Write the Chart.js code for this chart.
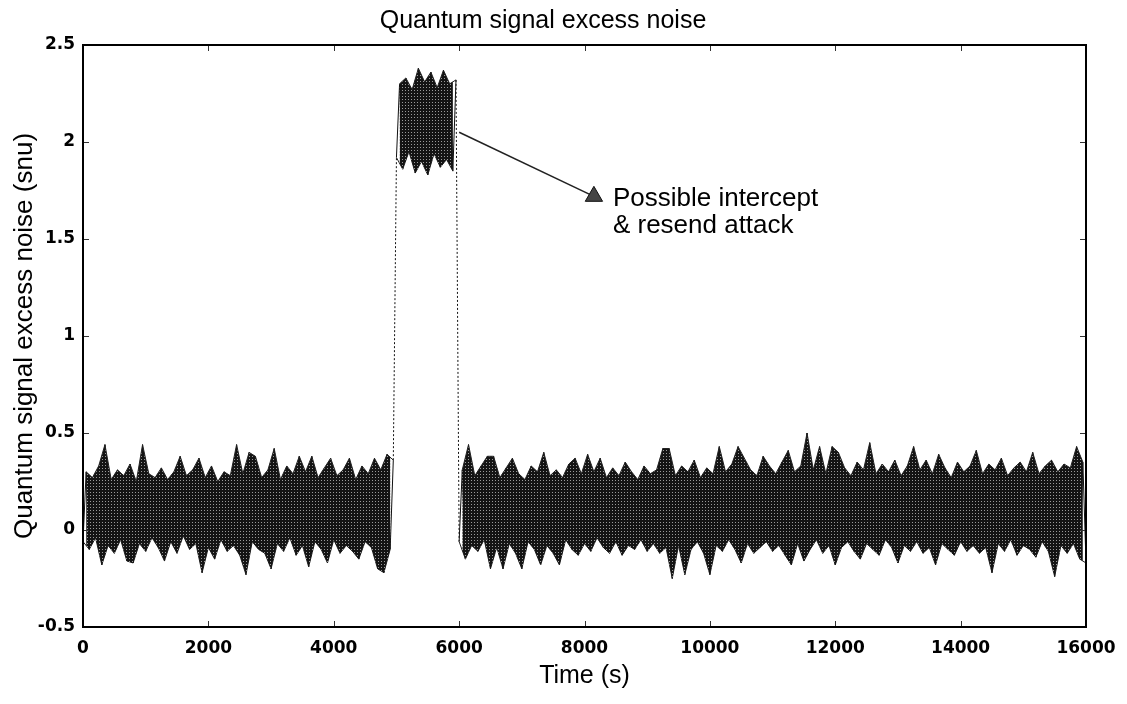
<!DOCTYPE html>
<html>
<head>
<meta charset="utf-8">
<title>Quantum signal excess noise</title>
<script src="https://cdn.jsdelivr.net/npm/chart.js@4.4.1/dist/chart.umd.min.js"></script>
<style>
  html, body { margin: 0; padding: 0; background: #fff; }
  #wrap { width: 1127px; height: 704px; }
</style>
</head>
<body>
<div id="wrap"><canvas id="noiseChart" width="1127" height="704"></canvas></div>
<script>
// sample spacing of the trace (s); troughs and peaks alternate
const stepSeconds = 50;

// 0 - 5000 s : normal link
const beforeStart = 0;
const beforeLow = [
  -0.06, -0.10, -0.04, -0.18, -0.08, -0.12, -0.05, -0.16, -0.17, -0.07,
  -0.11, -0.04, -0.09, -0.16, -0.06, -0.12, -0.03, -0.10, -0.07, -0.22,
  -0.09, -0.15, -0.05, -0.11, -0.08, -0.13, -0.23, -0.06, -0.10, -0.12,
  -0.20, -0.07, -0.11, -0.04, -0.13, -0.08, -0.19, -0.06, -0.10, -0.17,
  -0.05, -0.12, -0.08, -0.11, -0.15, -0.06, -0.09, -0.20, -0.22, -0.10
];
const beforeHigh = [
  0.30, 0.27, 0.33, 0.44, 0.26, 0.31, 0.28, 0.34, 0.25, 0.44,
  0.29, 0.27, 0.32, 0.26, 0.30, 0.38, 0.28, 0.31, 0.37, 0.27,
  0.33, 0.25, 0.30, 0.28, 0.44, 0.29, 0.40, 0.38, 0.27, 0.31,
  0.42, 0.26, 0.33, 0.29, 0.38, 0.30, 0.38, 0.27, 0.32, 0.37,
  0.28, 0.31, 0.37, 0.26, 0.33, 0.29, 0.37, 0.31, 0.39, 0.36
];

// 5000 - 6000 s : intercept & resend
const attackStart = 5000;
const attackLow = [1.92, 1.86, 1.95, 1.84, 1.90, 1.83, 1.94, 1.87, 1.91, 1.85];
const attackHigh = [2.30, 2.33, 2.27, 2.38, 2.31, 2.36, 2.28, 2.37, 2.30, 2.32];

// 6000 - 16000 s : normal link again
const afterStart = 6000;
const afterLow = [
  -0.06, -0.15, -0.08, -0.11, -0.05, -0.20, -0.09, -0.20, -0.07, -0.12,
  -0.20, -0.06, -0.10, -0.18, -0.08, -0.12, -0.18, -0.05, -0.10, -0.13,
  -0.07, -0.11, -0.04, -0.09, -0.12, -0.06, -0.13, -0.08, -0.10, -0.05,
  -0.11, -0.07, -0.12, -0.09, -0.25, -0.08, -0.23, -0.10, -0.06, -0.12,
  -0.23, -0.08, -0.11, -0.05, -0.10, -0.17, -0.07, -0.12, -0.09, -0.06,
  -0.11, -0.08, -0.13, -0.18, -0.07, -0.16, -0.10, -0.05, -0.12, -0.08,
  -0.18, -0.09, -0.06, -0.11, -0.15, -0.07, -0.10, -0.13, -0.05, -0.09,
  -0.17, -0.08, -0.11, -0.06, -0.12, -0.09, -0.18, -0.07, -0.10, -0.13,
  -0.06, -0.11, -0.08, -0.12, -0.09, -0.22, -0.07, -0.11, -0.05, -0.13,
  -0.08, -0.10, -0.14, -0.06, -0.11, -0.24, -0.08, -0.12, -0.07, -0.15,
  -0.17
];
const afterHigh = [
  0.31, 0.44, 0.28, 0.33, 0.38, 0.38, 0.27, 0.32, 0.37, 0.29,
  0.26, 0.33, 0.30, 0.40, 0.28, 0.31, 0.27, 0.34, 0.37, 0.29,
  0.39, 0.30, 0.37, 0.27, 0.32, 0.28, 0.35, 0.30, 0.26, 0.33,
  0.29, 0.31, 0.42, 0.42, 0.28, 0.33, 0.30, 0.36, 0.27, 0.32,
  0.29, 0.43, 0.30, 0.34, 0.43, 0.37, 0.31, 0.28, 0.38, 0.33,
  0.29, 0.35, 0.41, 0.30, 0.33, 0.50, 0.31, 0.43, 0.29, 0.43,
  0.40, 0.32, 0.28, 0.35, 0.31, 0.45, 0.29, 0.34, 0.30, 0.36,
  0.28, 0.33, 0.43, 0.31, 0.36, 0.29, 0.39, 0.32, 0.27, 0.35,
  0.30, 0.33, 0.41, 0.29, 0.34, 0.31, 0.37, 0.28, 0.32, 0.35,
  0.30, 0.40, 0.29, 0.33, 0.36, 0.30, 0.34, 0.32, 0.43, 0.35
];

// callout arrow: from the attack block to the marker
const calloutTime = [6000, 8150];
const calloutValue = [2.05, 1.72];
const calloutText = ['Possible intercept', '& resend attack'];

const timeMin = 0, timeMax = 16000, timeStep = 2000;
const noiseMin = -0.5, noiseMax = 2.5, noiseStep = 0.5;

// troughs sit on even steps, peaks on odd steps
const troughs = (start, lows) => lows.map((y, i) => ({ x: start + i * 2 * stepSeconds, y }));
const peaks = (start, highs) => highs.map((y, i) => ({ x: start + (i * 2 + 1) * stepSeconds, y }));

function zigzag(start, lows, highs) {
  const lo = troughs(start, lows), hi = peaks(start, highs);
  const pts = [];
  lo.forEach((p, i) => { pts.push(p); if (hi[i]) pts.push(hi[i]); });
  return pts;
}

const trace = [
  ...zigzag(beforeStart, beforeLow, beforeHigh),
  ...zigzag(attackStart, attackLow, attackHigh),
  ...zigzag(afterStart, afterLow, afterHigh)
];

const callout = calloutTime.map((t, i) => ({ x: t, y: calloutValue[i] }));

// halftone look of the printed trace
function halftone() {
  const c = document.createElement('canvas');
  c.width = 3; c.height = 3;
  const g = c.getContext('2d');
  g.fillStyle = '#141414';
  g.fillRect(0, 0, 3, 3);
  g.fillStyle = '#9a9a9a';
  g.fillRect(0, 0, 1, 1);
  return g.createPattern(c, 'repeat');
}
const bandFill = halftone();

function bandSets(start, lows, highs) {
  return [
    {
      label: 'peaks',
      data: peaks(start, highs),
      borderColor: '#222',
      borderWidth: 1,
      backgroundColor: bandFill,
      fill: '+1',
      pointRadius: 0
    },
    {
      label: 'troughs',
      data: troughs(start, lows),
      borderColor: '#222',
      borderWidth: 1,
      fill: false,
      pointRadius: 0
    }
  ];
}

const sansFont = "'Liberation Sans', Arial, Helvetica, sans-serif";
const tickFont = "'DejaVu Sans', sans-serif";

const isJump = c => Math.abs(c.p1.parsed.y - c.p0.parsed.y) > 1;

// frame + inward tick marks on all four sides
const framePlugin = {
  id: 'frame',
  afterDatasetsDraw(chart) {
    const { ctx, chartArea: a, scales } = chart;
    ctx.save();
    ctx.strokeStyle = '#333';
    ctx.lineWidth = 1;
    ctx.beginPath();
    scales.x.ticks.forEach(t => {
      const px = Math.round(scales.x.getPixelForValue(t.value)) + 0.5;
      ctx.moveTo(px, a.bottom); ctx.lineTo(px, a.bottom - 6);
      ctx.moveTo(px, a.top); ctx.lineTo(px, a.top + 6);
    });
    scales.y.ticks.forEach(t => {
      const py = Math.round(scales.y.getPixelForValue(t.value)) + 0.5;
      ctx.moveTo(a.left, py); ctx.lineTo(a.left + 6, py);
      ctx.moveTo(a.right, py); ctx.lineTo(a.right - 6, py);
    });
    ctx.stroke();
    ctx.strokeStyle = '#000';
    ctx.lineWidth = 2;
    ctx.strokeRect(a.left, a.top, a.right - a.left, a.bottom - a.top);
    ctx.restore();
  }
};

// text next to the callout marker
const calloutPlugin = {
  id: 'calloutText',
  afterDatasetsDraw(chart) {
    const { ctx, scales } = chart;
    const last = callout.length - 1;
    const px = scales.x.getPixelForValue(callout[last].x);
    const py = scales.y.getPixelForValue(callout[last].y);
    ctx.save();
    ctx.fillStyle = '#000';
    ctx.font = '26px ' + sansFont;
    ctx.textAlign = 'left';
    ctx.textBaseline = 'alphabetic';
    calloutText.forEach((line, i) => {
      ctx.fillText(line, px + 19, py + 10 + i * 27);
    });
    ctx.restore();
  }
};

new Chart(document.getElementById('noiseChart'), {
  type: 'line',
  data: {
    datasets: [
      ...bandSets(beforeStart, beforeLow, beforeHigh),
      ...bandSets(attackStart, attackLow, attackHigh),
      ...bandSets(afterStart, afterLow, afterHigh),
      {
        label: 'Excess noise',
        data: trace,
        borderColor: '#111',
        borderWidth: 1,
        pointRadius: 0,
        tension: 0,
        segment: {
          borderDash: c => isJump(c) ? [2, 2] : undefined
        }
      },
      {
        label: 'Callout',
        data: callout,
        borderColor: '#222',
        borderWidth: 1.5,
        pointStyle: 'triangle',
        pointRadius: [0, 10],
        pointBackgroundColor: '#444',
        pointBorderColor: '#111',
        pointBorderWidth: 1
      }
    ]
  },
  options: {
    responsive: false,
    animation: false,
    layout: { padding: { left: 0, right: 41, top: 0, bottom: 0 } },
    plugins: {
      legend: { display: false },
      tooltip: { enabled: false },
      title: {
        display: true,
        text: 'Quantum signal excess noise',
        color: '#000',
        font: { family: sansFont, size: 25, weight: 'normal' },
        padding: { top: 6, bottom: 9 }
      }
    },
    scales: {
      x: {
        type: 'linear',
        min: timeMin,
        max: timeMax,
        border: { display: false },
        grid: { display: false, drawTicks: false },
        ticks: {
          stepSize: timeStep,
          padding: 11,
          color: '#000',
          font: { family: tickFont, size: 17, weight: 'bold' },
          maxRotation: 0,
          callback: v => String(v)
        },
        title: {
          display: true,
          text: 'Time (s)',
          color: '#000',
          font: { family: sansFont, size: 25 },
          padding: { top: 0, bottom: 13 }
        },
        afterFit: s => { s.height = 77; }
      },
      y: {
        min: noiseMin,
        max: noiseMax,
        border: { display: false },
        grid: { display: false, drawTicks: false },
        ticks: {
          stepSize: noiseStep,
          padding: 8,
          color: '#000',
          font: { family: tickFont, size: 17, weight: 'bold' },
          callback: v => String(v)
        },
        title: {
          display: true,
          text: 'Quantum signal excess noise (snu)',
          color: '#000',
          font: { family: sansFont, size: 26 },
          padding: { top: 9, bottom: 0 }
        },
        afterFit: s => { s.width = 83; }
      }
    }
  },
  plugins: [framePlugin, calloutPlugin]
});
</script>
</body>
</html>
